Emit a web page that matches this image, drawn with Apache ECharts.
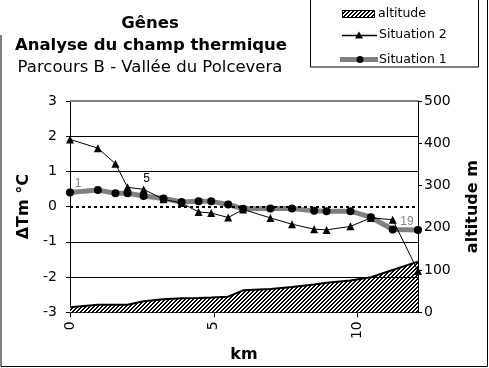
<!DOCTYPE html>
<html>
<head>
<meta charset="utf-8">
<script src="https://cdn.jsdelivr.net/npm/echarts@6/dist/echarts.min.js"></script>
<style>
html,body{margin:0;padding:0;background:#fff;}
#c{width:489px;height:368px;}
</style>
</head>
<body>
<div id="c"></div>
<script>
// ---- data ----
var km = [0, 0.97, 1.58, 2.0, 2.56, 3.25, 3.88, 4.47, 4.91, 5.5, 6.02, 6.97, 7.72, 8.49, 8.92, 9.75, 10.46, 11.22, 12.1];
var situation2 = [1.91, 1.66, 1.22, 0.55, 0.49, 0.21, 0.10, -0.15, -0.18, -0.31, -0.08, -0.32, -0.50, -0.64, -0.66, -0.56, -0.32, -0.37, -1.83];
var situation1 = [0.40, 0.47, 0.38, 0.38, 0.30, 0.23, 0.13, 0.15, 0.15, 0.06, -0.06, -0.05, -0.05, -0.12, -0.13, -0.13, -0.30, -0.65, -0.66];
var altitude = [12, 18, 18, 18, 26, 31, 33, 34, 35, 37, 52, 55, 60, 66, 70, 75, 83, 100, 120];
var tempTicks = [-3, -2, -1, 0, 1, 2, 3];
var altTicks = [0, 100, 200, 300, 400, 500];
var kmTicks = [0, 5, 10];
var titleLines = ['Gênes', 'Analyse du champ thermique', 'Parcours B - Vallée du Polcevera'];
var seriesNames = ['altitude', 'Situation 2', 'Situation 1'];

// hatch pattern
var pat = document.createElement('canvas');
pat.width = 4; pat.height = 4;
var pc = pat.getContext('2d');
pc.fillStyle = '#fff'; pc.fillRect(0, 0, 4, 4);
pc.fillStyle = '#000';
for (var yy = 0; yy < 4; yy++) for (var xx = 0; xx < 4; xx++) {
  var s = (xx + yy) % 4;
  if (s === 3 || s === 0) pc.fillRect(xx, yy, 1, 1);
}
var hatch = { image: pat, repeat: 'repeat' };

function pairs(ys) { return km.map(function (k, i) { return [k, ys[i]]; }); }

var s1data = pairs(situation1).map(function (p, i) {
  var d = { value: p };
  if (i === 0) d.label = { show: true, formatter: '1', position: 'inside', offset: [8, -9], color: '#808080' };
  if (i === km.length - 1) d.label = { show: true, formatter: '19', position: 'inside', offset: [-11, -8], color: '#808080' };
  return d;
});
var s2data = pairs(situation2).map(function (p, i) {
  var d = { value: p };
  if (i === 4) d.label = { show: true, formatter: '5', position: 'inside', offset: [3, -11], color: '#000' };
  return d;
});

var FONT = 'DejaVu Sans';
var chart = echarts.init(document.getElementById('c'), null, { renderer: 'canvas' });
var gridLines = tempTicks.filter(function (t) { return t !== 0 && t !== 3 && t !== -3; }).map(function (t) {
  return { yAxis: t, lineStyle: { color: '#000', width: 1, type: 'solid' } };
});
gridLines.push({ yAxis: 3, lineStyle: { color: '#808080', width: 2, type: 'solid' } });
gridLines.push({ yAxis: 0, lineStyle: { color: '#000', width: 2, type: [3, 3] } });

chart.setOption({
  animation: false,
  backgroundColor: '#fff',
  grid: { left: 70, right: 67, top: 101, bottom: 55, containLabel: false },
  xAxis: {
    type: 'value', min: 0, max: 12.1, interval: 5,
    name: 'km', nameLocation: 'middle', nameGap: 27,
    nameTextStyle: { fontFamily: FONT, fontWeight: 'bold', fontSize: 16, color: '#000' },
    axisLine: { onZero: false, lineStyle: { color: '#000', width: 1 } },
    axisTick: { show: true, length: 5, lineStyle: { color: '#000' }, customValues: kmTicks },
    axisLabel: { rotate: 90, margin: 9, fontFamily: FONT, fontSize: 14, color: '#000',
      customValues: kmTicks },
    splitLine: { show: false }
  },
  yAxis: [{
    type: 'value', min: -3, max: 3, interval: 1, position: 'left',
    name: 'ΔTm °C', nameLocation: 'middle', nameGap: 37, nameRotate: 90,
    nameTextStyle: { fontFamily: FONT, fontWeight: 'bold', fontSize: 16, color: '#000' },
    axisLine: { show: true, lineStyle: { color: '#000', width: 1 } },
    axisTick: { show: true, length: 4, lineStyle: { color: '#000' } },
    axisLabel: { margin: 13, fontFamily: FONT, fontSize: 14, color: '#000' },
    splitLine: { show: false }
  }, {
    type: 'value', min: 0, max: 500, interval: 100, position: 'right',
    name: 'altitude m', nameLocation: 'middle', nameGap: 47, nameRotate: 90,
    nameTextStyle: { fontFamily: FONT, fontWeight: 'bold', fontSize: 16, color: '#000' },
    axisLine: { show: true, lineStyle: { color: '#000', width: 1 } },
    axisTick: { show: true, length: 4, lineStyle: { color: '#000' } },
    axisLabel: { margin: 6, fontFamily: FONT, fontSize: 14, color: '#000' },
    splitLine: { show: false }
  }],
  series: [{
    name: seriesNames[0], type: 'line', yAxisIndex: 1, data: pairs(altitude),
    symbol: 'none', z: 1,
    lineStyle: { color: '#000', width: 2 },
    itemStyle: { color: '#000' },
    areaStyle: { color: hatch, opacity: 1 }
  }, {
    name: seriesNames[2], type: 'line', yAxisIndex: 0, data: s1data, z: 3,
    symbol: 'circle', symbolSize: 8,
    lineStyle: { color: '#808080', width: 5 },
    itemStyle: { color: '#000' },
    label: { fontFamily: 'Liberation Sans', fontSize: 12 }
  }, {
    name: seriesNames[1], type: 'line', yAxisIndex: 0, data: s2data, z: 4,
    symbol: 'triangle', symbolSize: 8,
    lineStyle: { color: '#000', width: 1 },
    itemStyle: { color: '#000' },
    label: { fontFamily: 'Liberation Sans', fontSize: 12 },
    markLine: { silent: true, symbol: ['none', 'none'], label: { show: false }, animation: false, data: gridLines }
  }],
  graphic: [
    { type: 'polyline', shape: { points: [[1, 35], [1, 366.5], [487.5, 366.5], [487.5, 0]] }, style: { stroke: '#000', lineWidth: 1, fill: null }, z: 10 },
    { type: 'text', x: 150, y: 24, style: { text: titleLines[0], font: 'bold 16.5px "DejaVu Sans"', fill: '#000', align: 'center', verticalAlign: 'middle' } },
    { type: 'text', x: 151, y: 46, style: { text: titleLines[1], font: 'bold 16.5px "DejaVu Sans"', fill: '#000', align: 'center', verticalAlign: 'middle' } },
    { type: 'text', x: 150, y: 68, style: { text: titleLines[2], font: '16.5px "DejaVu Sans"', fill: '#000', align: 'center', verticalAlign: 'middle' } },
    { type: 'rect', shape: { x: 310.5, y: -1, width: 168, height: 68 }, style: { stroke: '#000', lineWidth: 1, fill: '#fff' }, z: 10 },
    { type: 'rect', shape: { x: 342.5, y: 10.5, width: 32, height: 7 }, style: { stroke: '#000', lineWidth: 1, fill: hatch }, z: 11 },
    { type: 'text', x: 378, y: 14, style: { text: seriesNames[0], font: '12.5px "DejaVu Sans"', fill: '#000', verticalAlign: 'middle' }, z: 11 },
    { type: 'line', shape: { x1: 342, y1: 35.5, x2: 377, y2: 35.5 }, style: { stroke: '#000', lineWidth: 1.5 }, z: 11 },
    { type: 'polygon', shape: { points: [[359, 31.5], [355, 38.5], [363, 38.5]] }, style: { fill: '#000' }, z: 11 },
    { type: 'text', x: 379, y: 35, style: { text: seriesNames[1], font: '12.5px "DejaVu Sans"', fill: '#000', verticalAlign: 'middle' }, z: 11 },
    { type: 'line', shape: { x1: 340, y1: 59.5, x2: 378, y2: 59.5 }, style: { stroke: '#808080', lineWidth: 5 }, z: 11 },
    { type: 'circle', shape: { cx: 360, cy: 59.5, r: 3.5 }, style: { fill: '#000' }, z: 12 },
    { type: 'text', x: 379, y: 59.5, style: { text: seriesNames[2], font: '12.5px "DejaVu Sans"', fill: '#000', verticalAlign: 'middle' }, z: 11 }
  ]
});
</script>
</body>
</html>
